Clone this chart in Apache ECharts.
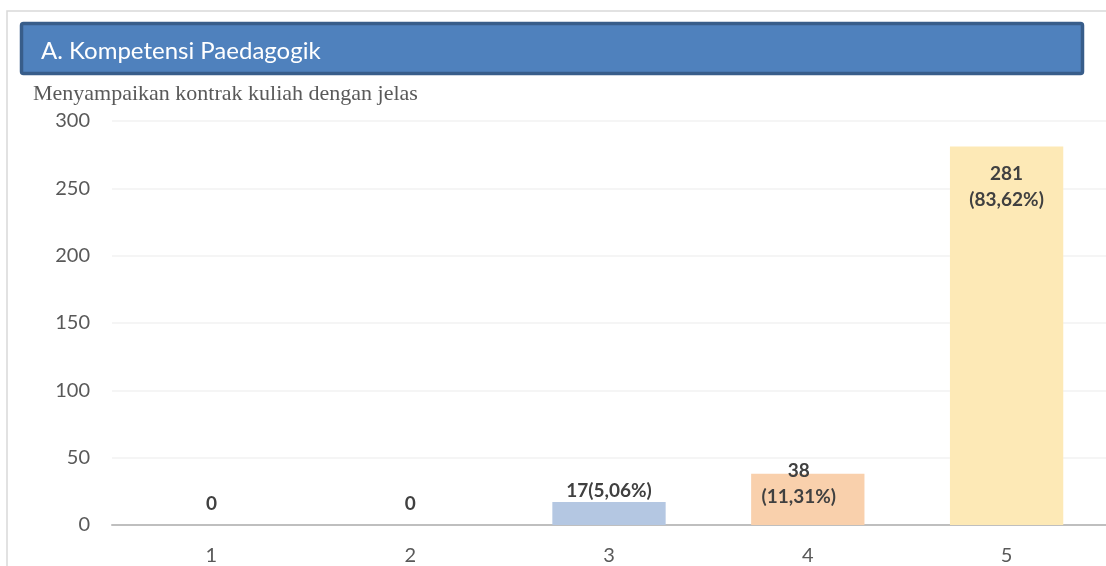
<!DOCTYPE html>
<html>
<head>
<meta charset="utf-8">
<script src="https://cdn.jsdelivr.net/npm/echarts@6/dist/echarts.min.js"></script>
<style>
html,body{margin:0;padding:0;background:#fff;}
#chart{width:1106px;height:566px;}
</style>
</head>
<body>
<div id="chart"></div>
<script>
const sectionTitle = 'A. Kompetensi Paedagogik';
const chartTitle = 'Menyampaikan kontrak kuliah dengan jelas';
const categories = ['1', '2', '3', '4', '5'];
const counts = [0, 0, 17, 38, 281];
const labelTexts = ['0', '0', '17(5,06%)', '38\n(11,31%)', '281\n(83,62%)'];
const barColors = ['#B4C7E2', '#B4C7E2', '#B4C7E2', '#F9D0AC', '#FDE9B6'];
const yTicks = [0, 50, 100, 150, 200, 250, 300];

const labelCfg = [
  {position: 'top', distance: 12},
  {position: 'top', distance: 12},
  {position: 'top', distance: 2},
  {position: 'insideTop', distance: 0, offset: [-9, -16], lineHeight: 26},
  {position: 'insideTop', distance: 14, lineHeight: 26}
];

const chart = echarts.init(document.getElementById('chart'), null, {renderer: 'canvas'});
const font = 'Lato, "Open Sans", sans-serif';

chart.setOption({
  animation: false,
  textStyle: {fontFamily: font},
  graphic: [
    {type: 'rect', shape: {x: 7, y: 11, width: 1120, height: 600},
     style: {fill: 'none', stroke: '#D9D9D9', lineWidth: 1.5}, silent: true},
    {type: 'rect', shape: {x: 21.5, y: 23.5, width: 1061, height: 50, r: 2},
     style: {fill: '#4F81BD', stroke: '#385D8A', lineWidth: 3.5}},
    {type: 'text', x: 41, y: 51,
     style: {text: sectionTitle, fill: '#FFFFFF', font: '24px ' + font, textVerticalAlign: 'middle'}},
    {type: 'text', x: 33, y: 94,
     style: {text: chartTitle, fill: '#595959', font: '22px "Liberation Serif", "DejaVu Serif", serif', textVerticalAlign: 'middle'}}
  ],
  grid: {left: 112, top: 121, width: 1000, bottom: 37, containLabel: false},
  xAxis: {
    type: 'category',
    data: categories,
    axisLine: {lineStyle: {color: '#BFBFBF', width: 2}},
    axisTick: {show: false},
    axisLabel: {color: '#595959', fontSize: 20, margin: 21, fontFamily: font}
  },
  yAxis: {
    type: 'value',
    min: yTicks[0],
    max: yTicks[yTicks.length - 1],
    interval: 50,
    axisLine: {show: false},
    axisTick: {show: false},
    splitLine: {lineStyle: {color: '#F2F2F2', width: 1.5}},
    axisLabel: {color: '#595959', fontSize: 20, margin: 22, fontFamily: font}
  },
  series: [{
    type: 'bar',
    barWidth: '57%',
    data: counts.map((v, i) => ({
      value: v,
      itemStyle: {color: barColors[i]},
      label: Object.assign({
        show: true,
        formatter: labelTexts[i],
        color: '#404040',
        fontWeight: 'bold',
        fontSize: 19,
        fontFamily: font
      }, labelCfg[i])
    }))
  }]
});
</script>
</body>
</html>
